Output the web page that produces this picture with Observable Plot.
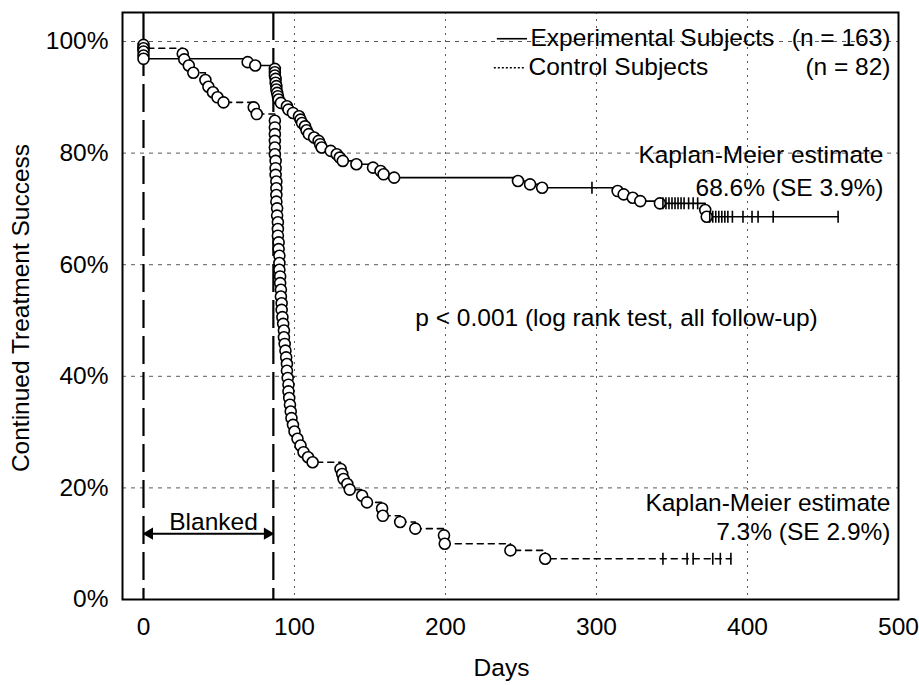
<!DOCTYPE html>
<html><head><meta charset="utf-8">
<script src="https://cdn.jsdelivr.net/npm/d3@7"></script>
<script src="https://cdn.jsdelivr.net/npm/@observablehq/plot@0.6"></script>
<style>
html,body{margin:0;padding:0;background:#fff;}
#chart{width:919px;height:685px;}
</style></head><body><div id="chart"></div>
<script>
// ---- data ----
const xTicks = [0, 100, 200, 300, 400, 500];
const yTicks = [0, 20, 40, 60, 80, 100];
const yGrid = [20, 40, 60, 80, 100];
const xGrid = [100, 200, 300, 400];

// [day, % continued success] after each event (first entry = start)
const experimentalSteps = [
  [0,100],[0,99.4],[0,98.8],[0,98.2],[0,97.5],[0,96.9],
  [69,96.3],[74,95.7],
  [87,95.1],[87,94.5],[87,93.9],[87.5,93.3],[87.5,92.6],[88,92.0],[88,91.4],[88.5,90.8],[89,90.2],[89.5,89.6],
  [91,89.0],[95,88.4],[96,87.8],[99,87.2],[103,86.6],[104,86.0],[105,85.4],[107,84.8],[108,84.1],[109.5,83.4],
  [113,82.8],[116,82.2],[117,81.6],[118,81.0],[124,80.4],[128,79.8],[130,79.2],[132,78.6],[141,78.0],[152,77.4],
  [157,76.8],[159,76.2],[166,75.6],
  [248,75.0],[256,74.4],[264,73.8],
  [314,73.2],[318,72.6],[324,72.0],[329,71.4],[342,71.0],[372,69.8],[373,68.6]
];
const experimentalCensor = [
  [297,73.8],
  [344,71.0],[346,71.0],[348,71.0],[350,71.0],[352,71.0],[354,71.0],[356,71.0],[358,71.0],[361,71.0],[364,71.0],[367,71.0],
  [375,68.6],[377,68.6],[379,68.6],[381,68.6],[383,68.6],[385,68.6],[387,68.6],[390,68.6],[397,68.6],[403,68.6],[407,68.6],[417,68.6],[460,68.6]
];

const controlSteps = [
  [0,100],[0,98.8],
  [26,97.8],[27,96.8],[30,95.7],[33,94.4],[41,93.1],[43,91.9],[46,90.9],[49,90.0],[53,89.1],
  [73,88.2],[75,87.0],
  [87,85.8],[87,84.6],[87,83.4],[87,82.2],[87,81.0],[87,79.8],[87.5,78.6],[87.5,77.3],[87.5,76.1],[88,74.9],
  [88,73.7],[88,72.5],[88,71.3],[88.5,70.1],[88.5,68.8],[89,67.6],[89,66.4],[89,65.2],[89.5,64.0],[89.5,62.8],
  [90,61.6],[90,60.3],[90,59.1],[90.5,57.9],[90.5,56.7],[91,55.5],[91,54.3],[91.5,53.1],[91.5,51.9],[92,50.6],
  [92.5,49.4],[93,48.2],[93,47.0],[93.5,45.8],[94,44.6],[94.5,43.4],[95,42.2],[95,41.0],[95.5,39.7],[96,38.5],
  [96,37.3],[96.5,36.1],[97,34.9],[97.5,33.7],[98,32.5],[99,31.3],[100,30.1],[102,28.8],[104,27.6],[106,26.4],
  [109,25.5],[112,24.6],
  [130.5,23.4],[131.6,22.5],[132.5,21.6],[135,20.7],[136.6,19.7],[144.8,18.6],[148,17.4],[158,16.3],[158.5,15.0],
  [170,13.9],[180,12.7],[199,11.5],[199.5,10.0],[243,8.8],[266,7.3]
];
const controlCensor = [[344,7.3],[360,7.3],[364,7.3],[377,7.3],[382,7.3],[389,7.3]];

const blankedDays = [0, 86];
const blankedSpan = [[0, 86, 11.8]];
const legendNames = ["Experimental Subjects", "Control Subjects"];
const legendCounts = ["(n = 163)", "(n = 82)"];
const kmTop = ["Kaplan-Meier estimate", "68.6% (SE 3.9%)"];
const kmBottom = ["Kaplan-Meier estimate", "7.3% (SE 2.9%)"];
const pText = ["p < 0.001 (log rank test, all follow-up)"];
const blankedText = ["Blanked"];
const xLabel = ["Days"];
const yLabel = ["Continued Treatment Success"];

// ---- build ----
const expLine = experimentalSteps.concat([[experimentalCensor[experimentalCensor.length-1][0], experimentalSteps[experimentalSteps.length-1][1]]]);
const ctrlLine = controlSteps.concat([[controlCensor[controlCensor.length-1][0], controlSteps[controlSteps.length-1][1]]]);
const vbar = {draw(ctx, size){ const h = Math.sqrt(size/Math.PI); ctx.moveTo(0,-h); ctx.lineTo(0,h); }};
const FS = 24.5;
const X = d => d[0], Y = d => d[1];

const chart = Plot.plot({
  width: 919, height: 685,
  marginLeft: 122, marginRight: 21, marginTop: 12, marginBottom: 86,
  style: {fontFamily: "'Liberation Sans', Arial, sans-serif", fontSize: FS + "px", color: "black", background: "white"},
  x: {domain: [-13.9, 500]},
  y: {domain: [0, 105.2]},
  marks: [
    Plot.gridY(yGrid, {stroke: "black", strokeOpacity: 0.65, strokeDasharray: "4,5"}),
    Plot.gridX(xGrid, {stroke: "black", strokeOpacity: 0.65, strokeDasharray: "2,5"}),
    Plot.ruleX(blankedDays, {stroke: "black", strokeWidth: 2.2, strokeDasharray: "28,8"}),
    Plot.axisX(xTicks, {tickSize: 0, tickPadding: 18, fontSize: FS, label: null}),
    Plot.axisY(yTicks, {tickSize: 0, tickPadding: 14, fontSize: FS, label: null, tickFormat: d => d + "%"}),
    Plot.frame({stroke: "black", strokeWidth: 2}),
    // curves
    Plot.line(ctrlLine, {x: X, y: Y, curve: "step-after", stroke: "black", strokeWidth: 1.6, strokeDasharray: "6,5"}),
    Plot.line(expLine, {x: X, y: Y, curve: "step-after", stroke: "black", strokeWidth: 1.6}),
    Plot.dot(controlSteps.slice(1), {x: X, y: Y, r: 5.5, stroke: "black", strokeWidth: 1.6, fill: "white"}),
    Plot.dot(experimentalSteps.slice(1), {x: X, y: Y, r: 5.5, stroke: "black", strokeWidth: 1.6, fill: "white"}),
    Plot.dot(controlCensor, {x: X, y: Y, r: 6, symbol: vbar, stroke: "black", strokeWidth: 1.6, fill: "none"}),
    Plot.dot(experimentalCensor, {x: X, y: Y, r: 6, symbol: vbar, stroke: "black", strokeWidth: 1.6, fill: "none"}),
    // blanked arrow
    Plot.ruleY(blankedSpan, {x1: d => d[0], x2: d => d[1], y: d => d[2], stroke: "black", strokeWidth: 2}),
    Plot.dot(blankedSpan, {x: d => d[0], y: d => d[2], symbol: "triangle", rotate: -90, r: 4.5, fill: "black", dx: 6}),
    Plot.dot(blankedSpan, {x: d => d[1], y: d => d[2], symbol: "triangle", rotate: 90, r: 4.5, fill: "black", dx: -6}),
    Plot.text(blankedText, {frameAnchor: "top-left", text: d => d, dx: 91, dy: 510, fontSize: FS, textAnchor: "middle", lineAnchor: "middle"}),
    // legend
    Plot.link([[234, 254, 100.5]], {x1: d => d[0], x2: d => d[1], y1: d => d[2], y2: d => d[2], stroke: "black", strokeWidth: 1.6}),
    Plot.link([[232, 252, 95.3]], {x1: d => d[0], x2: d => d[1], y1: d => d[2], y2: d => d[2], stroke: "black", strokeWidth: 1.6, strokeDasharray: "2,2"}),
    Plot.text(legendNames, {frameAnchor: "top-left", text: d => d, dx: 408, fontSize: FS, textAnchor: "start", lineAnchor: "middle", filter: (d, i) => i === 0, dy: 26}),
    Plot.text(legendNames, {frameAnchor: "top-left", text: d => d, dx: 406, fontSize: FS, textAnchor: "start", lineAnchor: "middle", filter: (d, i) => i === 1, dy: 55}),
    Plot.text(legendCounts, {frameAnchor: "top-right", text: d => d, dx: -8, fontSize: FS, textAnchor: "end", lineAnchor: "middle", filter: (d, i) => i === 0, dy: 26}),
    Plot.text(legendCounts, {frameAnchor: "top-right", text: d => d, dx: -8, fontSize: FS, textAnchor: "end", lineAnchor: "middle", filter: (d, i) => i === 1, dy: 55}),
    // annotations
    Plot.text([kmTop[0]], {frameAnchor: "top-right", text: d => d, dx: -15, dy: 143, fontSize: FS, textAnchor: "end", lineAnchor: "middle"}),
    Plot.text([kmTop[1]], {frameAnchor: "top-right", text: d => d, dx: -15, dy: 176, fontSize: FS, textAnchor: "end", lineAnchor: "middle"}),
    Plot.text([kmBottom[0]], {frameAnchor: "top-right", text: d => d, dx: -8, dy: 491, fontSize: FS, textAnchor: "end", lineAnchor: "middle"}),
    Plot.text([kmBottom[1]], {frameAnchor: "top-right", text: d => d, dx: -8, dy: 520, fontSize: FS, textAnchor: "end", lineAnchor: "middle"}),
    Plot.text(pText, {frameAnchor: "top-left", text: d => d, dx: 494, dy: 306, fontSize: FS, textAnchor: "middle", lineAnchor: "middle"}),
    // axis titles
    Plot.text(xLabel, {frameAnchor: "bottom", text: d => d, dx: -9, dy: 69, fontSize: FS, textAnchor: "middle", lineAnchor: "middle"}),
    Plot.text(yLabel, {frameAnchor: "left", text: d => d, dx: -101, dy: 2, rotate: -90, fontSize: FS, textAnchor: "middle", lineAnchor: "middle"})
  ]
});
document.getElementById("chart").appendChild(chart);
</script>
</body></html>
